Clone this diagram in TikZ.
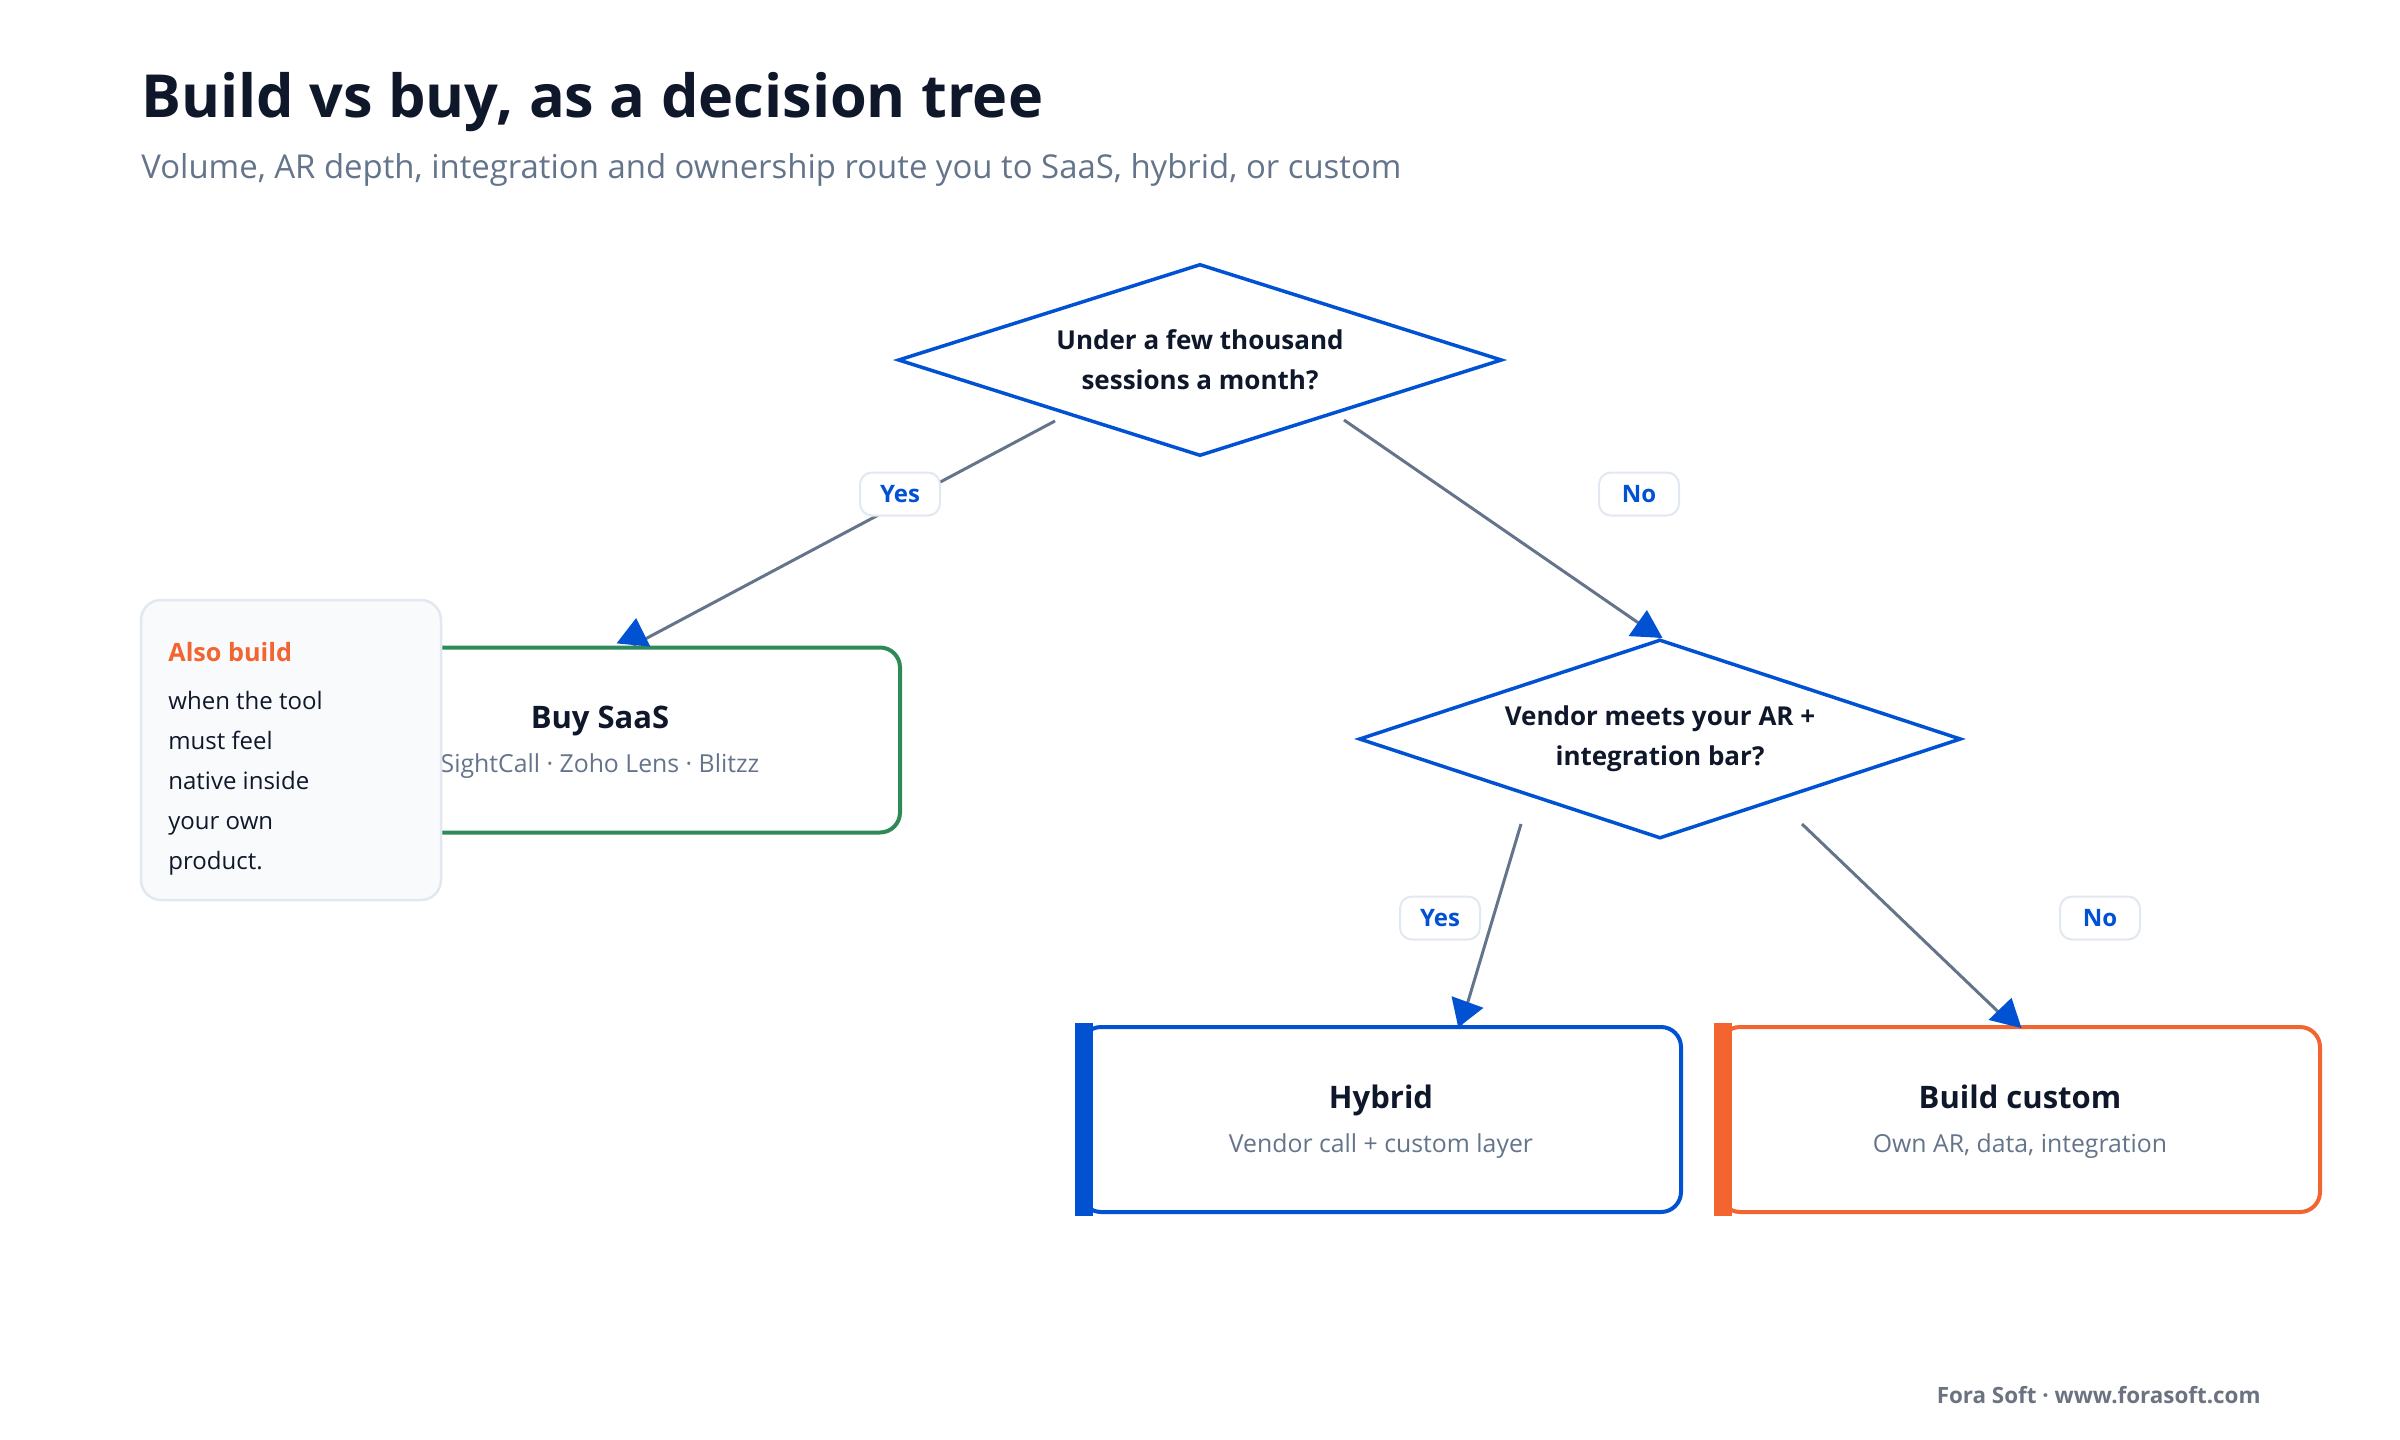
\documentclass[tikz,border=0pt]{standalone}
\usepackage{fontspec}
\setmainfont{Open Sans}
\usetikzlibrary{shapes.geometric}

\definecolor{ink}{HTML}{0F172A}
\definecolor{slate}{HTML}{64748B}
\definecolor{footgray}{HTML}{6B7280}
\definecolor{qblue}{HTML}{0052D3}
\definecolor{buildorange}{HTML}{F26430}
\definecolor{saasgreen}{HTML}{2E8B57}
\definecolor{pillline}{HTML}{E2E8F0}
\definecolor{notefill}{HTML}{F8FAFC}

\begin{document}
\begin{tikzpicture}[x=0.5pt, y=-0.5pt,
    question/.style={diamond, draw=qblue, line width=1.75pt, fill=white, shape aspect=3,
        inner sep=0pt, text=ink, align=center, font=\bfseries\fontsize{13}{20}\selectfont},
    outcome/.style={draw, rounded corners=10pt, line width=2pt, fill=white,
        minimum width=300pt, minimum height=92.5pt},
    outtitle/.style={anchor=base, inner sep=0pt, text=ink, font=\bfseries\fontsize{15.5}{18}\selectfont},
    outsub/.style={anchor=base, inner sep=0pt, text=slate, font=\fontsize{12.4}{15}\selectfont},
    branch/.style={draw=slate, line width=1.5pt},
    pill/.style={draw=pillline, line width=1pt, fill=white, rounded corners=6pt,
        minimum width=40pt, minimum height=21.5pt, inner sep=0pt,
        text=qblue, font=\bfseries\fontsize{12}{14}\selectfont},
    notetext/.style={text=ink, anchor=base west, inner sep=0pt, font=\fontsize{12}{14}\selectfont},
    tiphead/.pic={\fill[qblue] (13.5pt,0pt) -- (0pt,8.5pt) -- (0pt,-8.5pt) -- cycle;}
]
    %--------------------%
    % Parameters
    %--------------------%
    \def\bandin{7pt}
    \def\bandout{2pt}

    \useasboundingbox (0,0) rectangle (2400,1440);

    %--------------------%
    % Heading
    %--------------------%
    \node[anchor=base west, inner sep=0pt, text=ink, font=\bfseries\fontsize{29.7}{34}\selectfont] (title) at (141,117) {Build vs buy, as a decision tree};
    \node[anchor=base west, inner sep=0pt, text=slate, font=\fontsize{16.45}{20}\selectfont] (subtitle) at (141,178) {Volume, AR depth, integration and ownership route you to SaaS, hybrid, or custom};

    %--------------------%
    % Questions
    %--------------------%
    \node[question, minimum width=302pt, minimum height=96pt] (q1) at (1200,360) {Under a few thousand\\sessions a month?};
    \node[question, minimum width=301pt, minimum height=99.5pt] (q2) at (1660,739) {Vendor meets your AR +\\integration bar?};

    %--------------------%
    % Outcomes
    %--------------------%
    \node[outcome, draw=saasgreen] (saas) at (600,740) {};
    \node[outtitle] (saastitle) at (600,728) {Buy SaaS};
    \node[outsub] (saassub) at (600,772) {SightCall · Zoho Lens · Blitzz};

    \node[outcome, draw=qblue] (hybrid) at (1381,1119.5) {};
    \fill[qblue] ([xshift=-\bandout,yshift=1pt]hybrid.north west) rectangle ([xshift=\bandin,yshift=-1pt]hybrid.south west);
    \node[outtitle] (hybridtitle) at (1381,1108.5) {Hybrid};
    \node[outsub] (hybridsub) at (1381,1152.5) {Vendor call + custom layer};

    \node[outcome, draw=buildorange] (build) at (2020,1119.5) {};
    \fill[buildorange] ([xshift=-\bandout,yshift=1pt]build.north west) rectangle ([xshift=\bandin,yshift=-1pt]build.south west);
    \node[outtitle] (buildtitle) at (2020,1108.5) {Build custom};
    \node[outsub] (buildsub) at (2020,1152.5) {Own AR, data, integration};

    %--------------------%
    % Connections
    %--------------------%
    \draw[branch] ([shift={(-145,61)}]q1.center) -- ([shift={(33,0)}]saas.north);
    \draw[branch] ([shift={(144,60)}]q1.center) -- (q2.north);
    \draw[branch] ([shift={(-139,85)}]q2.center) -- ([shift={(80,0)}]hybrid.north);
    \draw[branch] ([shift={(142,85)}]q2.center) -- ([shift={(-8,0)}]build.north);

    % Arrow heads
    \pic[rotate=84.5] at (633.5,645) {tiphead};
    \pic[rotate=87] at (1645.5,637) {tiphead};
    \pic[rotate=-110] at (1467.5,1002) {tiphead};
    \pic[rotate=76] at (2005,1024) {tiphead};

    %--------------------%
    % Branch Labels
    %--------------------%
    \node[pill] (yes1) at (900,494) {Yes};
    \node[pill] (no1) at (1639,494) {No};
    \node[pill] (yes2) at (1440,918) {Yes};
    \node[pill] (no2) at (2100,918) {No};

    %--------------------%
    % Side Note
    %--------------------%
    \node[draw=pillline, line width=1.25pt, fill=notefill, rounded corners=10pt,
        minimum width=150pt, minimum height=150pt] (note) at (291,750) {};
    \node[anchor=base west, inner sep=0pt, text=buildorange, font=\bfseries\fontsize{12.6}{15}\selectfont] (notehead) at (168,661) {Also build};
    \foreach \ln [count=\i] in {when the tool, must feel, native inside, your own, product.}
        \node[notetext] (note\i) at (168,669+40*\i) {\ln};

    %--------------------%
    % Footer
    %--------------------%
    \node[anchor=base east, inner sep=0pt, text=footgray, font=\bfseries\fontsize{11.2}{13}\selectfont] (footer) at (2261,1403) {Fora Soft · www.forasoft.com};

\end{tikzpicture}
\end{document}
